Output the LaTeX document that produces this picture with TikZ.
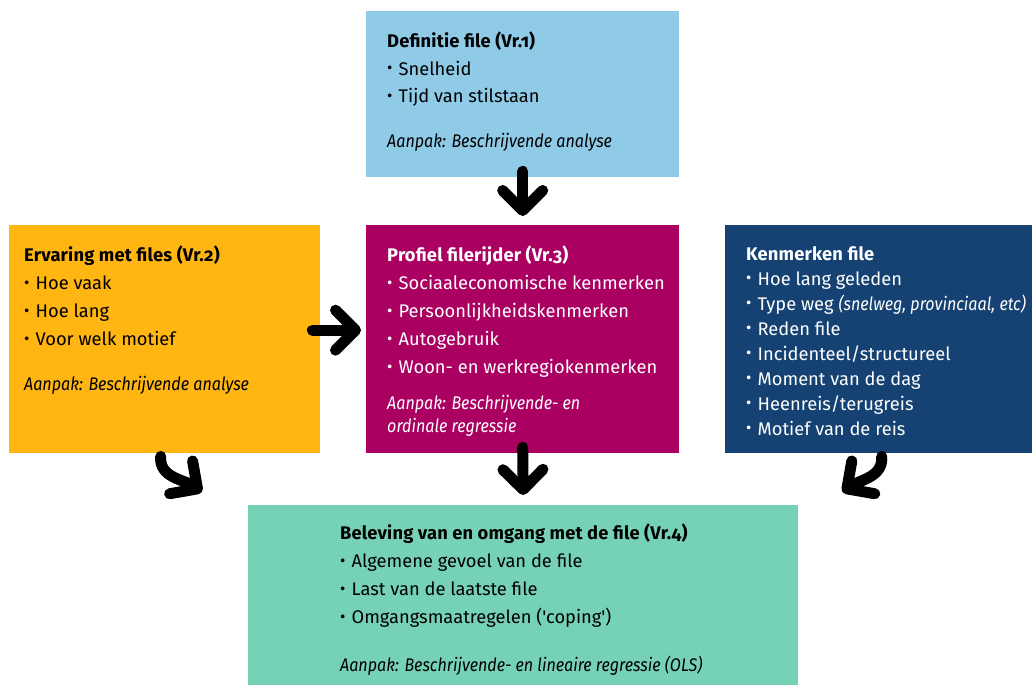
\documentclass[tikz,border=0pt]{standalone}
\usepackage{fontspec}
\usepackage{graphicx}
\setmainfont{Fira Sans}[Ligatures=TeXOff]
\usetikzlibrary{positioning,arrows.meta}

\definecolor{roblauw}{HTML}{8FCAE7}
\definecolor{rogeel}{HTML}{FFB612}
\definecolor{roviolet}{HTML}{A90061}
\definecolor{rodonker}{HTML}{154273}
\definecolor{romint}{HTML}{76D2B6}

\newcommand{\bul}{\raisebox{0.15ex}{\scalebox{0.9}{\textbullet}}\,\,}
\newcommand{\vrnr}[1]{{\addfontfeature{Numbers=OldStyle}(Vr.#1)}}
\newcommand{\kop}[1]{{\bfseries\addfontfeature{LetterSpace=1}#1}}
\newcommand{\aanpak}[1]{{\itshape\addfontfeature{FakeStretch=0.88}#1}}

\tikzset{
  vak/.style={anchor=north west,inner sep=0pt},
  tekst/.style={anchor=north west,inner sep=0pt,align=left,
    font=\fontsize{18.3}{#1}\selectfont},
  tekst/.default=28,
  pijl/.style={line width=11pt,line cap=round,line join=round,
    -{Straight Barb[length=20pt,width=40pt,line cap=round,line join=round]}}
}

\begin{document}
\begin{tikzpicture}[x=1pt,y=1pt]
  \useasboundingbox (0,0) rectangle (1032,685);
  % vakken
  \node[vak,fill=roblauw,minimum width=313pt,minimum height=166pt] (def) at (366,674) {};
  \node[vak,fill=rogeel,minimum width=311pt,minimum height=228pt] (erv) at (9,460) {};
  \node[vak,fill=roviolet,minimum width=313pt,minimum height=228pt] (prof) at (366,460) {};
  \node[vak,fill=rodonker,minimum width=307pt,minimum height=228pt] (kenm) at (725,460) {};
  \node[vak,fill=romint,minimum width=550pt,minimum height=180pt] (bel) at (248,180) {};
  % teksten
  \node[tekst=27.5,below right=21pt and 21pt of def.north west] (deftekst)
   {\kop{Definitie file \vrnr{1}}\\
    \bul Snelheid\\
    \bul Tijd van stilstaan\\[17pt]
    \aanpak{Aanpak: Beschrijvende analyse}};
  \node[tekst,below right=21pt and 15pt of erv.north west] (ervtekst)
   {\kop{Ervaring met files \vrnr{2}}\\
    \bul Hoe vaak\\
    \bul Hoe lang\\
    \bul Voor welk motief\\[17pt]
    \aanpak{Aanpak: Beschrijvende analyse}};
  \node[tekst,text=white,below right=21pt and 21pt of prof.north west] (proftekst)
   {\kop{Profiel filerijder \vrnr{3}}\\
    \bul Sociaaleconomische kenmerken\\
    \bul Persoonlijkheidskenmerken\\
    \bul Autogebruik\\
    \bul Woon- en werkregiokenmerken\\[8pt]
    \aanpak{Aanpak: Beschrijvende- en}\\[-5pt]
    \aanpak{ordinale regressie}};
  \node[tekst=25,text=white,below right=21pt and 21pt of kenm.north west] (kenmtekst)
   {\kop{Kenmerken file}\\
    \bul Hoe lang geleden\\
    \bul Type weg \aanpak{(snelweg, provinciaal, etc)}\\
    \bul Reden file\\
    \bul Incidenteel/structureel\\
    \bul Moment van de dag\\
    \bul Heenreis/terugreis\\
    \bul Motief van de reis};
  \node[tekst,below right=19pt and 92pt of bel.north west] (beltekst)
   {\kop{Beleving van en omgang met de file \vrnr{4}}\\
    \bul Algemene gevoel van de file\\
    \bul Last van de laatste file\\
    \bul Omgangsmaatregelen ('coping')\\[20pt]
    \aanpak{Aanpak: Beschrijvende- en lineaire regressie (OLS)}};
  % pijlen
  \draw[pijl] ([yshift=6pt]def.south) -- ([yshift=9pt]prof.north);
  \draw[pijl] ([xshift=-8pt,yshift=9pt]erv.east) -- ([xshift=-5pt,yshift=9pt]prof.west);
  \draw[pijl] ([yshift=6pt]prof.south) -- ([yshift=10pt]bel.north);
  \draw[pijl] ([xshift=-4pt,yshift=-3pt]erv.south) to[out=-95,in=145] ([xshift=-46pt,yshift=13pt]bel.north west);
  \draw[pijl] ([xshift=3pt,yshift=-3pt]kenm.south) to[out=-85,in=35] ([xshift=44pt,yshift=13pt]bel.north east);
\end{tikzpicture}
\end{document}
